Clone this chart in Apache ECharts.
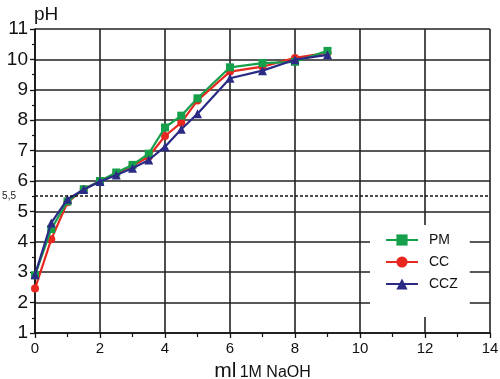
<!DOCTYPE html>
<html><head><meta charset="utf-8">
<script src="https://cdn.jsdelivr.net/npm/echarts@6/dist/echarts.min.js"></script>
<style>html,body{margin:0;padding:0;background:#fff}#c{width:500px;height:379px}</style>
</head><body><div id="c"></div>
<script>
const xValues = [0, 0.5, 1, 1.5, 2, 2.5, 3, 3.5, 4, 4.5, 5, 6, 7, 8, 9];
const pmValues  = [2.9, 4.42, 5.33, 5.73, 6.0, 6.28, 6.53, 6.9, 7.76, 8.15, 8.72, 9.74, 9.88, 9.92, 10.28];
const ccValues  = [2.46, 4.08, 5.3, 5.73, 6.0, 6.25, 6.5, 6.8, 7.48, 7.92, 8.65, 9.6, 9.76, 10.05, 10.22];
const cczValues = [2.92, 4.62, 5.4, 5.72, 5.98, 6.2, 6.42, 6.69, 7.13, 7.7, 8.21, 9.38, 9.63, 9.99, 10.15];
const seriesNames = ['PM', 'CC', 'CCZ'];
const refLevel = 5.5;
const refLabel = '5,5';

const pair = v => xValues.map((x, i) => [x, v[i]]);
const font = 'Liberation Sans, Arial, sans-serif';
const chart = echarts.init(document.getElementById('c'));
chart.setOption({
  animation: false,
  backgroundColor: '#fff',
  textStyle: { fontFamily: font },
  grid: { left: 35, right: 10, top: 29, bottom: 46, outerBoundsMode: 'none', containLabel: false },
  xAxis: {
    type: 'value', min: 0, max: 14, interval: 2,
    name: '{a|ml} {b|1M NaOH}', nameLocation: 'middle', nameGap: 23,
    nameTextStyle: { rich: {
      a: { fontSize: 21, color: '#111', fontFamily: font, verticalAlign: 'bottom', lineHeight: 22 },
      b: { fontSize: 16, color: '#111', fontFamily: font, verticalAlign: 'bottom', lineHeight: 22, padding: [0, 0, 1.5, 0] } } },
    axisLine: { show: true, lineStyle: { color: '#111', width: 1.5 } },
    axisTick: { show: true, inside: false, length: 5, lineStyle: { color: '#111', width: 1.3 } },
    minorTick: { show: true, splitNumber: 2, length: 4, lineStyle: { color: '#111', width: 1.2 } },
    axisLabel: { fontSize: 15, color: '#111', margin: 8 },
    splitLine: { show: true, lineStyle: { color: '#222', width: 1.6 } }
  },
  yAxis: {
    type: 'value', min: 1, max: 11, interval: 1,
    name: 'pH', nameLocation: 'end', nameGap: 5,
    nameTextStyle: { fontSize: 19, color: '#111', align: 'left', padding: [0, 0, 0, -1] },
    axisLine: { show: true, lineStyle: { color: '#111', width: 1.5 } },
    axisTick: { show: true, inside: false, length: 5, lineStyle: { color: '#111', width: 1.3 } },
    minorTick: { show: true, splitNumber: 2, length: 3, lineStyle: { color: '#111', width: 1.2 } },
    axisLabel: { fontSize: 19, color: '#111', margin: 7 },
    splitLine: { show: true, lineStyle: { color: '#222', width: 1.6 } }
  },
  legend: {
    orient: 'vertical', left: 370, top: 225,
    backgroundColor: '#fff',
    padding: [8, 12, 26, 15],
    itemWidth: 32, itemHeight: 14, itemGap: 8,
    textStyle: { fontSize: 14, color: '#111', padding: [0, 0, 0, 6] },
    data: seriesNames
  },
  series: [
    { name: seriesNames[0], type: 'line', data: pair(pmValues), symbol: 'rect', symbolSize: 8,
      itemStyle: { color: '#17a04b' }, lineStyle: { width: 2.2, color: '#17a04b' }, z: 3,
      markLine: { silent: true, symbol: 'none',
        lineStyle: { type: [3, 2], color: '#111', width: 1.5 },
        label: { show: true, position: 'start', formatter: refLabel, fontSize: 10, color: '#222', distance: 19 },
        data: [{ yAxis: refLevel }] } },
    { name: seriesNames[1], type: 'line', data: pair(ccValues), symbol: 'circle', symbolSize: 8,
      itemStyle: { color: '#e8281f' }, lineStyle: { width: 2.2, color: '#e8281f' }, z: 2 },
    { name: seriesNames[2], type: 'line', data: pair(cczValues), symbol: 'triangle', symbolSize: 9,
      itemStyle: { color: '#2b2b85' }, lineStyle: { width: 2.2, color: '#2b2b85' }, z: 4 }
  ]
});
</script></body></html>
